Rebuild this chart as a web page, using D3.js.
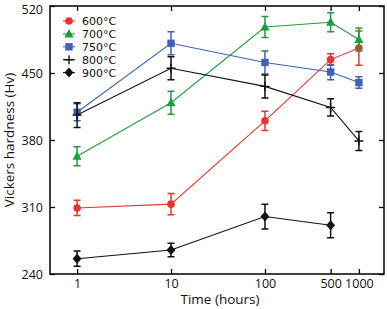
<!DOCTYPE html>
<html>
<head>
<meta charset="utf-8">
<script src="https://cdn.jsdelivr.net/npm/d3@7"></script>
<style>
  body { margin: 0; background: #fff; }
  text { font-family: "Open Sans", sans-serif; }
  .legend text { font-family: "DejaVu Sans", sans-serif; }
</style>
</head>
<body>
<svg id="chart" width="387" height="309"></svg>
<script>
const WIDTH = 387, HEIGHT = 309;
const margin = { top: 6, right: 3, bottom: 35, left: 50 };

// data
const hours = [1, 10, 100, 500, 1000];
const series = ["600°C", "700°C", "750°C", "800°C", "900°C"];
const colors = ["#e8362d", "#1f9d3c", "#3d62b8", "#111111", "#111111"];
const shapes = ["circle", "triangle", "square", "plus", "diamond"];
const hv600 = [309, 313, 400, 464, 476];
const err600 = [8, 11, 10, 6, 18];
const hv700 = [363, 419, 498, 503, 485];
const err700 = [10, 12, 11, 10, 12];
const hv750 = [409, 481, 461, 451, 440];
const err750 = [9, 12, 12, 8, 6];
const hv800 = [406, 455, 436, 414, 379];
const err800 = [13, 12, 12, 9, 10];
const hv900 = [256, 265, 300, 291];
const err900 = [8, 7, 13, 13];
const yTicks = [240, 310, 380, 450, 520];
const xTicks = [1, 10, 100, 500, 1000];

const values = [hv600, hv700, hv750, hv800, hv900];
const errors = [err600, err700, err750, err800, err900];

const svg = d3.select("#chart");
const innerW = WIDTH - margin.left - margin.right;
const innerH = HEIGHT - margin.top - margin.bottom;
const g = svg.append("g").attr("transform", `translate(${margin.left},${margin.top})`);

const x = d3.scaleLog().domain([0.515, 1850]).range([0, innerW]);
const y = d3.scaleLinear().domain([240, 520]).range([innerH, 0]);

// frame with inward ticks
g.append("rect")
  .attr("width", innerW).attr("height", innerH)
  .attr("fill", "none").attr("stroke", "#000").attr("stroke-width", 1.5);

const tickLen = 5;
const fmt = d => String(d);

const xAxis = g.append("g").attr("transform", `translate(0,${innerH})`)
  .call(d3.axisBottom(x).tickValues(xTicks).tickFormat(fmt).tickSizeInner(-tickLen).tickSizeOuter(0).tickPadding(5));
const xTop = g.append("g")
  .call(d3.axisTop(x).tickValues(xTicks).tickFormat("").tickSizeInner(-tickLen).tickSizeOuter(0));
const yAxis = g.append("g")
  .call(d3.axisLeft(y).tickValues(yTicks).tickFormat(fmt).tickSizeInner(-tickLen).tickSizeOuter(0).tickPadding(7));
const yRight = g.append("g").attr("transform", `translate(${innerW},0)`)
  .call(d3.axisRight(y).tickValues(yTicks).tickFormat("").tickSizeInner(-tickLen).tickSizeOuter(0));

[xAxis, xTop, yAxis, yRight].forEach(a => {
  a.select(".domain").remove();
  a.selectAll(".tick line").attr("stroke", "#000").attr("stroke-width", 1.3);
  a.selectAll("text").attr("font-size", 12.5).attr("fill", "#111");
});
// keep the top label inside the page
yAxis.selectAll(".tick text").filter(d => d === 520).attr("dy", "0.62em");

svg.append("text")
  .attr("x", margin.left + innerW / 2 + 3).attr("y", HEIGHT - 5)
  .attr("text-anchor", "middle").attr("font-size", 13.5).attr("fill", "#111")
  .text("Time (hours)");

svg.append("text")
  .attr("transform", `translate(14,${margin.top + innerH / 2}) rotate(-90)`)
  .attr("text-anchor", "middle").attr("font-size", 13.5).attr("fill", "#111")
  .text("Vickers hardness (Hv)");

function symbol(sel, shape, color) {
  if (shape === "circle") {
    sel.append("circle").attr("r", 3.8).attr("fill", color);
  } else if (shape === "triangle") {
    sel.append("path").attr("d", "M0,-5L4.6,3.5L-4.6,3.5Z").attr("fill", color);
  } else if (shape === "square") {
    sel.append("rect").attr("x", -3.7).attr("y", -3.7).attr("width", 7.4).attr("height", 7.4).attr("fill", color);
  } else if (shape === "plus") {
    sel.append("path").attr("d", "M-4.5,0H4.5M0,-4.5V4.5").attr("stroke", color).attr("stroke-width", 1.4);
  } else if (shape === "diamond") {
    sel.append("path").attr("d", "M0,-5L4.5,0L0,5L-4.5,0Z").attr("fill", color);
  }
}

const line = d3.line().x(d => x(d.t)).y(d => y(d.v));

series.forEach((name, i) => {
  const pts = values[i].map((v, j) => ({ t: hours[j], v: v, e: errors[i][j] }));
  const sg = g.append("g");
  sg.append("path").datum(pts)
    .attr("d", line).attr("fill", "none")
    .attr("stroke", colors[i]).attr("stroke-width", 1.1);

  const eb = sg.selectAll(".err").data(pts).join("g");
  eb.append("path")
    .attr("d", d => {
      const cx = x(d.t), y0 = y(d.v - d.e), y1 = y(d.v + d.e);
      return `M${cx},${y0}V${y1}M${cx - 3.5},${y0}H${cx + 3.5}M${cx - 3.5},${y1}H${cx + 3.5}`;
    })
    .attr("fill", "none").attr("stroke", colors[i]).attr("stroke-width", 1.5);

  sg.selectAll(".pt").data(pts).join("g")
    .attr("transform", d => `translate(${x(d.t)},${y(d.v)})`)
    .each(function() { symbol(d3.select(this), shapes[i], colors[i]); });
});

// legend
const leg = g.append("g").attr("class", "legend").attr("transform", "translate(13,15)");
series.forEach((name, i) => {
  const row = leg.append("g").attr("transform", `translate(0,${i * 12.9})`);
  row.append("line").attr("x1", 0).attr("x2", 12).attr("stroke", colors[i]).attr("stroke-width", 1.1);
  const m = row.append("g").attr("transform", "translate(6,0)");
  symbol(m, shapes[i], colors[i]);
  row.append("text").attr("x", 19).attr("y", 4)
    .attr("font-size", 11).attr("fill", "#111").text(name);
});
</script>
</body>
</html>
